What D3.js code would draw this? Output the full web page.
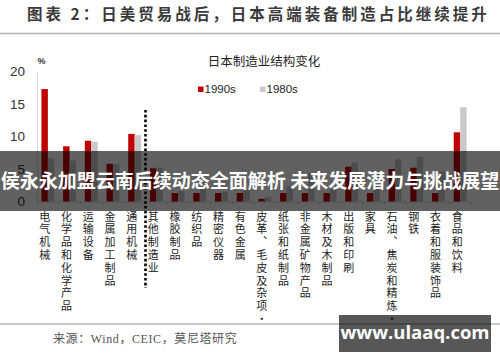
<!DOCTYPE html>
<html><head><meta charset="utf-8">
<script src="https://cdn.jsdelivr.net/npm/d3@7"></script>
<style>
html,body{margin:0;padding:0;background:#fff;}
svg{display:block;}
.vlab{writing-mode:vertical-rl;text-orientation:upright;}
</style></head>
<body>
<svg id="c" width="500" height="362"></svg>
<script>
const categories = ["电气机械","化学品和化学产品","运输设备","金属加工制品","通用机械","其他制造业","橡胶制品","纺织品","精密仪器","有色金属","皮革、毛皮及杂项·","纸张和纸制品","非金属矿物产品","木材及木制品","出版和印刷","家具","石油、焦炭和精炼·","钢铁","衣着和服装饰品","食品和饮料"];
const series = ["1990s","1980s"];
const values1990s = [17.3,8.5,9.35,5.8,10.4,5.1,1.3,1.3,1.3,1.3,0.4,1.3,1.3,1.3,5.35,1.3,5.0,5.2,1.3,10.65];
const values1980s = [6.6,6.3,9.2,5.7,10.2,5.2,1.6,2.8,1.5,1.8,0.7,2.4,4.4,1.9,6.0,2.3,6.5,6.9,4.6,14.5];
const yTicks = [0,5,10,15,20];
const titleText = "图表 2：日美贸易战后，日本高端装备制造占比继续提升";
const chartTitle = "日本制造业结构变化";
const sourceText = "来源：Wind，CEIC，莫尼塔研究";
const bannerText = "侯永永加盟云南后续动态全面解析 未来发展潜力与挑战展望";
const watermark = "www.ulaaq.com";
const colors = {"1990s":"#c00000","1980s":"#c9c9c9"};

const svg = d3.select("#c");
const CJK = "'Noto Sans CJK SC','Noto Sans',sans-serif";

// header
svg.append("text").attr("x",27).attr("y",16).attr("dominant-baseline","middle")
  .attr("font-family",CJK).attr("font-size",15.5).attr("font-weight","bold")
  .attr("letter-spacing",3).attr("fill","#3a3a3a").text(titleText);
svg.append("line").attr("x1",0).attr("x2",500).attr("y1",33.5).attr("y2",33.5)
  .attr("stroke","#b5b5b5").attr("stroke-width",1.5);

// scales
const y = d3.scaleLinear().domain([0,20]).range([201.5,71.5]);
const x = d3.scaleBand().domain(categories).range([37,471]).paddingInner(0).paddingOuter(0);
const xs = d3.scaleBand().domain(series).range([0,x.bandwidth()]).paddingInner(0).paddingOuter(0.69);

// y axis
const yAxis = svg.append("g").attr("transform","translate(37,0)")
  .call(d3.axisLeft(y).tickValues(yTicks).tickSize(0).tickPadding(12));
yAxis.select(".domain").attr("stroke","#d9d9d9");
yAxis.selectAll("text").attr("font-family","'Liberation Sans',Arial,sans-serif")
  .attr("font-size",13.5).attr("fill","#333");

// x baseline
const xAxis = svg.append("g").attr("transform","translate(0,201.5)")
  .call(d3.axisBottom(x).tickSize(3).tickFormat(""));
xAxis.select(".domain").attr("stroke","#d9d9d9");
xAxis.selectAll(".tick line").attr("stroke","#d9d9d9").attr("transform",`translate(${x.bandwidth()/2},0)`);

// bars
const data = categories.map((c,i)=>({cat:c, vals:[{s:"1990s",v:values1990s[i]},{s:"1980s",v:values1980s[i]}]}));
const g = svg.append("g");
g.selectAll("g.cat").data(data).join("g").attr("class","cat")
  .attr("transform",d=>`translate(${x(d.cat)},0)`)
  .selectAll("rect").data(d=>d.vals).join("rect")
  .attr("x",d=>xs(d.s)).attr("width",xs.bandwidth())
  .attr("y",d=>y(d.v)).attr("height",d=>y(0)-y(d.v))
  .attr("fill",d=>colors[d.s]);

// dotted divider
const divX = x("其他制造业");
svg.append("line").attr("x1",divX).attr("x2",divX).attr("y1",110).attr("y2",288)
  .attr("stroke","#000").attr("stroke-width",2.6).attr("stroke-dasharray","2.6,2.2");

// x labels (vertical)
svg.append("g").selectAll("text").data(categories).join("text")
  .attr("class","vlab")
  .attr("x",d=>x(d)+x.bandwidth()/2-3).attr("y",211)
  .attr("font-family",CJK).attr("font-size",11).attr("letter-spacing",1.8)
  .attr("fill","#222").text(d=>d);

// chart title, % and legend
svg.append("text").attr("x",264).attr("y",63).attr("dominant-baseline","middle").attr("text-anchor","middle")
  .attr("font-family",CJK).attr("font-size",12.5).attr("fill","#222").text(chartTitle);
svg.append("text").attr("x",41.5).attr("y",62).attr("dominant-baseline","middle").attr("text-anchor","middle")
  .attr("font-family","'Liberation Sans',Arial,sans-serif").attr("font-size",9).attr("font-weight","bold").attr("fill","#333").text("%");
const legX = [198,260];
series.forEach((s,i)=>{
  svg.append("rect").attr("x",legX[i]).attr("y",86.5).attr("width",5.5).attr("height",5.5).attr("fill",colors[s]);
  svg.append("text").attr("x",legX[i]+6.5).attr("y",89.5).attr("dominant-baseline","middle")
    .attr("font-family","'Liberation Sans',Arial,sans-serif").attr("font-size",11.5).attr("fill","#222").text(s);
});

// footer
svg.append("line").attr("x1",0).attr("x2",500).attr("y1",324).attr("y2",324)
  .attr("stroke","#b5b5b5").attr("stroke-width",1.5);
svg.append("text").attr("x",53).attr("y",340).attr("dominant-baseline","middle")
  .attr("font-family","'Liberation Serif','Noto Sans CJK SC',serif").attr("font-size",12)
  .attr("letter-spacing",0.6).attr("fill","#555").text(sourceText);

// overlay banner
svg.append("rect").attr("x",0).attr("y",151).attr("width",500).attr("height",60)
  .attr("fill","#000").attr("fill-opacity",0.62);
svg.append("text").attr("x",250).attr("y",183).attr("dominant-baseline","middle").attr("text-anchor","middle")
  .attr("font-family",CJK).attr("font-size",19).attr("font-weight","bold").attr("fill","#fff").text(bannerText);

// watermark box
svg.append("rect").attr("x",339).attr("y",315).attr("width",152).attr("height",37)
  .attr("fill","#000").attr("fill-opacity",0.66);
svg.append("text").attr("x",415).attr("y",334).attr("dominant-baseline","middle").attr("text-anchor","middle")
  .attr("font-family","'Open Sans','DejaVu Sans',sans-serif").attr("font-size",18.5).attr("font-weight","bold")
  .attr("fill","#fff").text(watermark);
</script>
</body></html>
